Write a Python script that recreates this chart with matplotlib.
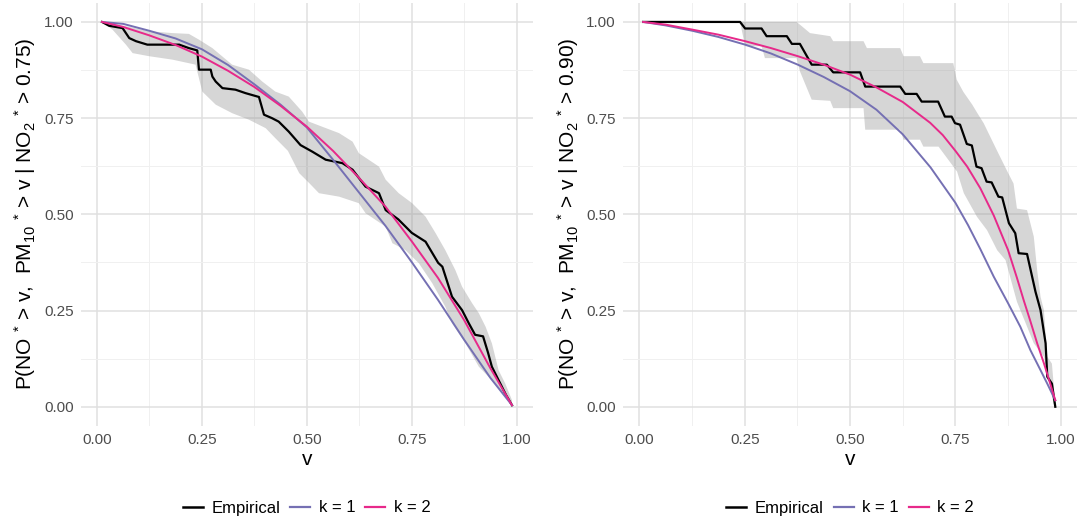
import numpy as np
import matplotlib
matplotlib.use('Agg')
import matplotlib.pyplot as plt
from matplotlib.lines import Line2D

plt.rcParams['font.family'] = ['Liberation Sans', 'DejaVu Sans']
plt.rcParams['mathtext.fontset'] = 'custom'
plt.rcParams['mathtext.rm'] = 'Liberation Sans'
plt.rcParams['mathtext.it'] = 'Liberation Sans:italic'
plt.rcParams['mathtext.bf'] = 'Liberation Sans:bold'
plt.rcParams['mathtext.default'] = 'regular'

# ---- left panel: NO2* > 0.75 ----
l_emp_x = [0.012, 0.029, 0.061, 0.077, 0.093, 0.12, 0.196, 0.219, 0.239, 0.243, 0.271, 0.275,
           0.283, 0.299, 0.330, 0.354, 0.386, 0.398, 0.417, 0.433, 0.457, 0.485, 0.513, 0.545,
           0.585, 0.609, 0.640, 0.672, 0.688, 0.718, 0.750, 0.783, 0.813, 0.823, 0.846, 0.870,
           0.886, 0.901, 0.920, 0.932, 0.941, 0.957, 0.975, 0.989]
l_emp_y = [1.0, 0.99, 0.984, 0.958, 0.95, 0.941, 0.941, 0.932, 0.926, 0.876, 0.876, 0.858,
           0.845, 0.828, 0.824, 0.815, 0.805, 0.759, 0.75, 0.741, 0.715, 0.68, 0.663, 0.642,
           0.633, 0.616, 0.572, 0.555, 0.511, 0.487, 0.452, 0.429, 0.374, 0.364, 0.286, 0.251,
           0.217, 0.187, 0.183, 0.14, 0.104, 0.069, 0.03, 0.004]

l_up_x = [0.012, 0.069, 0.124, 0.180, 0.219, 0.243, 0.275, 0.322, 0.362, 0.394, 0.425, 0.457,
          0.489, 0.505, 0.536, 0.577, 0.609, 0.624, 0.672, 0.688, 0.719, 0.751, 0.783, 0.807,
          0.830, 0.854, 0.870, 0.894, 0.910, 0.926, 0.941, 0.957, 0.973, 0.989]
l_up_y = [1.0, 0.989, 0.976, 0.971, 0.969, 0.954, 0.932, 0.889, 0.876, 0.845, 0.819, 0.806,
          0.767, 0.741, 0.728, 0.711, 0.689, 0.659, 0.624, 0.590, 0.555, 0.529, 0.494, 0.451,
          0.407, 0.355, 0.312, 0.269, 0.243, 0.208, 0.165, 0.095, 0.060, 0.017]
l_lo_x = [0.012, 0.037, 0.069, 0.085, 0.124, 0.180, 0.235, 0.251, 0.283, 0.322, 0.362, 0.402,
          0.425, 0.455, 0.482, 0.506, 0.529, 0.577, 0.624, 0.640, 0.688, 0.704, 0.735, 0.767,
          0.799, 0.830, 0.846, 0.878, 0.910, 0.941, 0.973, 0.989]
l_lo_y = [1.0, 0.98, 0.941, 0.919, 0.911, 0.902, 0.889, 0.819, 0.785, 0.763, 0.746, 0.724,
          0.698, 0.665, 0.607, 0.581, 0.555, 0.546, 0.529, 0.503, 0.468, 0.425, 0.407, 0.373,
          0.321, 0.260, 0.217, 0.165, 0.104, 0.069, 0.026, 0.004]

l_k1_x = [0.012, 0.0625, 0.125, 0.1875, 0.25, 0.3125, 0.375, 0.4375, 0.5, 0.5625, 0.625,
          0.6875, 0.75, 0.8125, 0.875, 0.9375, 0.989]
l_k1_y = [1.0, 0.995, 0.977, 0.957, 0.929, 0.888, 0.838, 0.785, 0.726, 0.642, 0.556,
          0.47, 0.376, 0.278, 0.174, 0.075, 0.004]
l_k2_x = [0.012, 0.0625, 0.125, 0.1875, 0.25, 0.3125, 0.375, 0.4375, 0.5, 0.5625, 0.625,
          0.6875, 0.75, 0.8125, 0.875, 0.9375, 0.989]
l_k2_y = [1.0, 0.987, 0.965, 0.94, 0.91, 0.873, 0.831, 0.782, 0.728, 0.665, 0.594,
          0.52, 0.43, 0.335, 0.225, 0.10, 0.004]

# ---- right panel: NO2* > 0.90 ----
r_emp_x = [0.009, 0.239, 0.251, 0.290, 0.302, 0.350, 0.362, 0.381, 0.409, 0.445, 0.460, 0.524,
           0.536, 0.619, 0.631, 0.658, 0.670, 0.709, 0.725, 0.741, 0.749, 0.761, 0.777, 0.789,
           0.800, 0.812, 0.824, 0.836, 0.852, 0.861, 0.877, 0.892, 0.900, 0.920, 0.940, 0.952,
           0.964, 0.968, 0.979, 0.987]
r_emp_y = [1.0, 1.0, 0.983, 0.983, 0.963, 0.963, 0.943, 0.943, 0.889, 0.889, 0.869, 0.869,
           0.832, 0.832, 0.813, 0.813, 0.793, 0.793, 0.754, 0.754, 0.737, 0.733, 0.683, 0.679,
           0.624, 0.620, 0.585, 0.583, 0.546, 0.544, 0.477, 0.451, 0.399, 0.397, 0.299, 0.251,
           0.165, 0.078, 0.06, 0.0]

r_up_x = [0.009, 0.373, 0.381, 0.405, 0.453, 0.460, 0.532, 0.540, 0.619, 0.627, 0.666, 0.674,
          0.745, 0.753, 0.769, 0.790, 0.801, 0.817, 0.849, 0.873, 0.888, 0.896, 0.920, 0.936,
          0.944, 0.952, 0.960, 0.968, 0.979, 0.987]
r_up_y = [1.0, 1.0, 0.993, 0.971, 0.963, 0.950, 0.950, 0.932, 0.932, 0.911, 0.911, 0.893,
          0.893, 0.85, 0.818, 0.785, 0.765, 0.737, 0.665, 0.612, 0.58, 0.515, 0.511, 0.442,
          0.355, 0.286, 0.251, 0.13, 0.112, 0.008]
r_lo_x = [0.009, 0.239, 0.251, 0.290, 0.298, 0.373, 0.381, 0.409, 0.453, 0.460, 0.532, 0.536,
          0.619, 0.627, 0.666, 0.674, 0.710, 0.754, 0.770, 0.801, 0.825, 0.849, 0.869, 0.896,
          0.936, 0.960, 0.968, 0.983, 0.987]
r_lo_y = [1.0, 1.0, 0.937, 0.937, 0.906, 0.906, 0.872, 0.798, 0.795, 0.776, 0.776, 0.720,
          0.720, 0.694, 0.694, 0.676, 0.676, 0.611, 0.555, 0.494, 0.459, 0.407, 0.381, 0.273,
          0.165, 0.130, 0.087, 0.008, 0.0]

r_k1_x = [0.009, 0.0625, 0.126, 0.1875, 0.251, 0.3125, 0.376, 0.4375, 0.5, 0.5625, 0.625,
          0.691, 0.75, 0.78, 0.809, 0.841, 0.875, 0.904, 0.928, 0.952, 0.968, 0.987]
r_k1_y = [1.0, 0.991, 0.977, 0.961, 0.941, 0.918, 0.889, 0.857, 0.82, 0.772, 0.708,
          0.622, 0.53, 0.472, 0.41, 0.338, 0.269, 0.208, 0.147, 0.095, 0.06, 0.017]
r_k2_x = [0.009, 0.0625, 0.126, 0.1875, 0.251, 0.3125, 0.376, 0.4375, 0.5, 0.5625, 0.625, 0.69,
          0.72, 0.75, 0.778, 0.809, 0.841, 0.875, 0.896, 0.912, 0.928, 0.944, 0.960, 0.968, 0.987]
r_k2_y = [1.0, 0.993, 0.98, 0.967, 0.95, 0.932, 0.911, 0.889, 0.863, 0.83, 0.792, 0.738,
          0.706, 0.665, 0.624, 0.568, 0.497, 0.407, 0.335, 0.277, 0.222, 0.165, 0.113, 0.085, 0.017]

ylabels = [r'P(NO $^{*}$ > v,  PM$_{10}$ $^{*}$ > v | NO$_{2}$ $^{*}$ > 0.75)',
           r'P(NO $^{*}$ > v,  PM$_{10}$ $^{*}$ > v | NO$_{2}$ $^{*}$ > 0.90)']

col_emp = 'black'
col_k1 = '#7570B3'
col_k2 = '#E7298A'

W, H = 1082, 520
fig = plt.figure(figsize=(W / 100, H / 100), dpi=100)
ax1 = fig.add_axes([80.6 / W, (H - 426) / H, (533 - 80.6) / W, 423.3 / H])
ax2 = fig.add_axes([622.9 / W, (H - 426) / H, (1077.2 - 622.9) / W, 423.3 / H])

panels = [
    (ax1, l_emp_x, l_emp_y, l_up_x, l_up_y, l_lo_x, l_lo_y, l_k1_x, l_k1_y, l_k2_x, l_k2_y, ylabels[0]),
    (ax2, r_emp_x, r_emp_y, r_up_x, r_up_y, r_lo_x, r_lo_y, r_k1_x, r_k1_y, r_k2_x, r_k2_y, ylabels[1]),
]

ticks = [0, 0.25, 0.5, 0.75, 1.0]
minor = [0.125, 0.375, 0.625, 0.875]

for ax, ex, ey, ux, uy, lx, ly, k1x, k1y, k2x, k2y, ylab in panels:
    band_x = list(ux) + list(lx)[::-1]
    band_y = list(uy) + list(ly)[::-1]
    ax.fill(band_x, band_y, color='#999999', alpha=0.4, lw=0, zorder=1)
    ax.plot(ex, ey, color=col_emp, lw=1.6, zorder=3)
    ax.plot(k1x, k1y, color=col_k1, lw=1.4, zorder=4)
    ax.plot(k2x, k2y, color=col_k2, lw=1.4, zorder=5)

    ax.set_xlim(-0.039, 1.039)
    ax.set_ylim(-0.05, 1.05)
    ax.set_xticks(ticks)
    ax.set_yticks(ticks)
    ax.set_xticks(minor, minor=True)
    ax.set_yticks(minor, minor=True)
    ax.set_xticklabels(['%.2f' % t for t in ticks])
    ax.set_yticklabels(['%.2f' % t for t in ticks])
    ax.set_axisbelow(True)
    ax.grid(which='major', color='#E0E0E0', lw=1.1)
    ax.grid(which='minor', color='#F0F0F0', lw=0.7)
    for s in ax.spines.values():
        s.set_visible(False)
    ax.tick_params(which='both', length=0, labelsize=11, labelcolor='#4D4D4D')
    ax.tick_params(axis='x', pad=5)
    ax.tick_params(axis='y', pad=5)
    ax.set_xlabel('v', fontsize=15, labelpad=2)
    ax.set_ylabel(ylab, fontsize=15, labelpad=4)

    handles = [Line2D([], [], color=col_emp, lw=1.8),
               Line2D([], [], color=col_k1, lw=1.6),
               Line2D([], [], color=col_k2, lw=1.6)]
    pos = ax.get_position()
    fig.legend(handles, ['Empirical', 'k = 1', 'k = 2'], loc='center',
               bbox_to_anchor=(pos.x0 + pos.width / 2, (H - 508) / H), ncol=3,
               frameon=False, fontsize=12, handlelength=1.2, handletextpad=0.5,
               columnspacing=0.6)

fig.savefig('out.png', dpi=100)
